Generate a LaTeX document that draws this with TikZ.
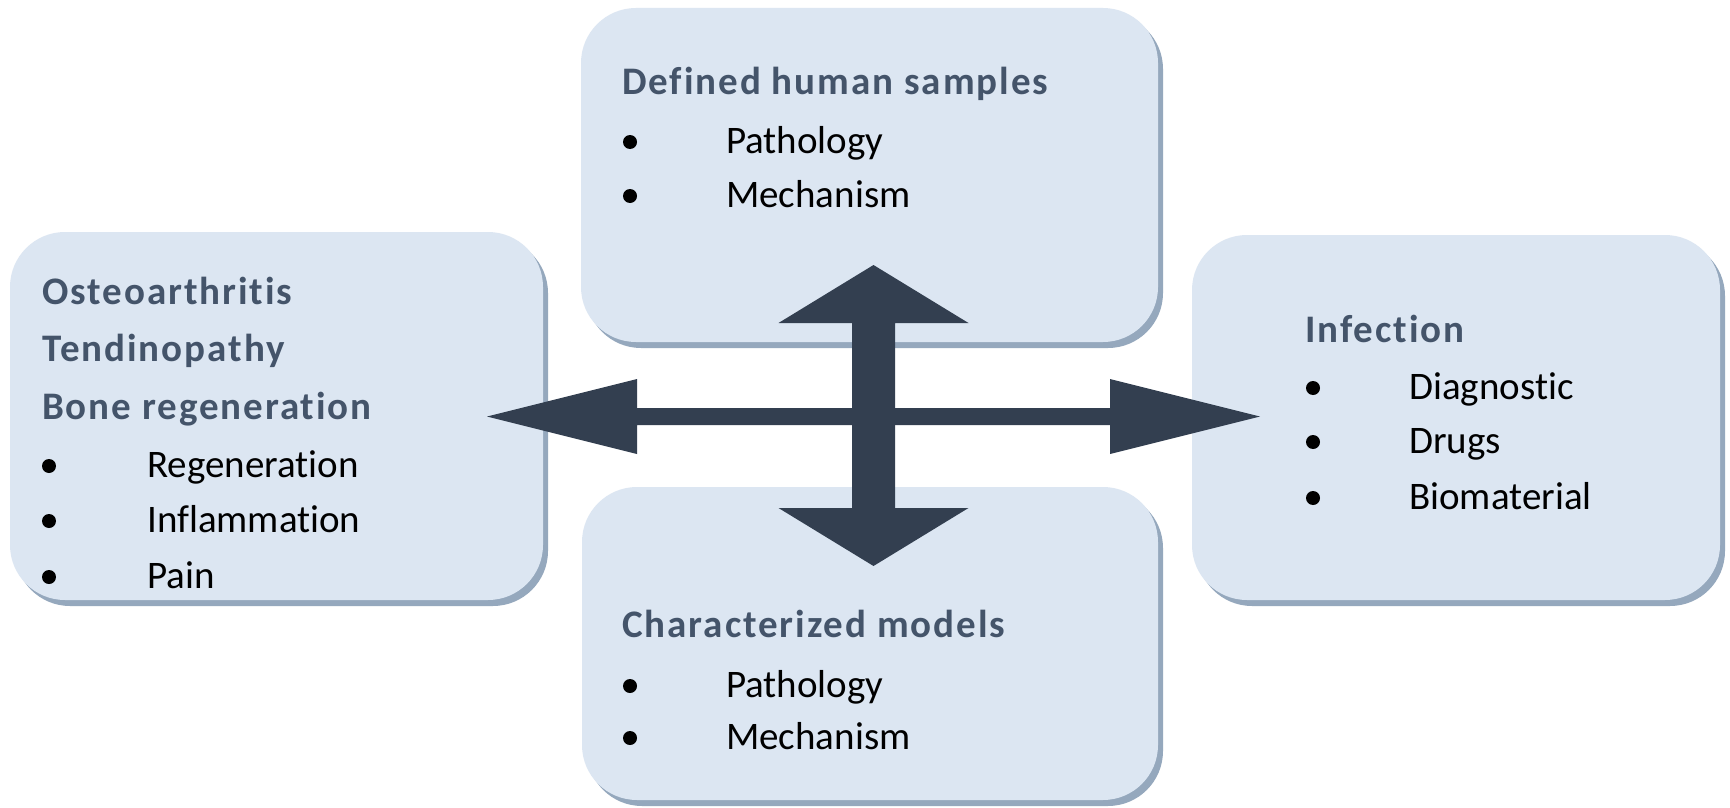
\documentclass[tikz,border=0pt]{standalone}
\usepackage{fontspec}
\setmainfont[Ligatures=NoCommon]{Carlito}
\newfontfamily\headfont[Ligatures=NoCommon, LetterSpace=5]{Carlito}
\usetikzlibrary{shadows}
\definecolor{boxfill}{HTML}{DCE6F2}
\definecolor{boxshade}{HTML}{95A8BD}
\definecolor{arrowcol}{HTML}{333F50}
\definecolor{headcol}{HTML}{44546A}
\tikzset{
  panel/.style={rectangle, rounded corners=55pt, fill=boxfill, draw=none, inner sep=0pt,
    drop shadow={shadow xshift=5pt, shadow yshift=-6pt, fill=boxshade, opacity=1}},
  head/.style={anchor=base west, inner sep=0pt, text=headcol, font=\fontsize{39}{46}\headfont\bfseries},
  item/.style={anchor=base west, inner sep=0pt, font=\fontsize{39}{46}\selectfont},
  dot/.style={circle, fill=black, inner sep=0pt, minimum size=14pt},
  bigarrow/.style={fill=arrowcol, draw=none}
}
\begin{document}
\begin{tikzpicture}[x=1pt, y=-1pt]
  \fill[white] (0,0) rectangle (1730,808);
  \useasboundingbox (0,0) rectangle (1730,808);

  % panels
  \node[panel, minimum width=577pt, minimum height=334pt] (ptop) at (869.5,175) {};
  \node[panel, minimum width=533pt, minimum height=368pt] (pleft) at (276.5,416) {};
  \node[panel, minimum width=528pt, minimum height=365pt] (pright) at (1456,417.5) {};
  \node[panel, minimum width=576pt, minimum height=313pt] (pbot) at (870,643.5) {};

  % top panel text
  \node[head] (t0) at (622,94) {Defined human samples};
  \node[dot] (tb1) at (630,142) {};
  \node[item] (t1) at (726,153) {Pathology};
  \node[dot] (tb2) at (630,196) {};
  \node[item] (t2) at (726,207) {Mechanism};

  % left panel text
  \node[head] (l0) at (42,304) {Osteoarthritis};
  \node[head] (l1) at (42,361) {Tendinopathy};
  \node[head] (l2) at (42,419) {Bone regeneration};
  \node[dot] (lb1) at (49,466) {};
  \node[item] (l3) at (147,477) {Regeneration};
  \node[dot] (lb2) at (49,521) {};
  \node[item] (l4) at (147,532) {Inflammation};
  \node[dot] (lb3) at (49,577) {};
  \node[item] (l5) at (147,588) {Pain};

  % right panel text
  \node[head] (r0) at (1305,342) {Infection};
  \node[dot] (rb1) at (1313,388) {};
  \node[item] (r1) at (1409,399) {Diagnostic};
  \node[dot] (rb2) at (1313,442) {};
  \node[item] (r2) at (1409,453) {Drugs};
  \node[dot] (rb3) at (1313,498) {};
  \node[item] (r3) at (1409,509) {Biomaterial};

  % bottom panel text
  \node[head] (b0) at (622,637) {Characterized models};
  \node[dot] (bb1) at (630,686) {};
  \node[item] (b1) at (726,697) {Pathology};
  \node[dot] (bb2) at (630,738) {};
  \node[item] (b2) at (726,749) {Mechanism};

  % crossing block arrows
  \coordinate (hub) at (873.5,416.5);
  \begin{scope}[shift={(hub)}]
    \fill[bigarrow] (-386.5,0) -- (-236.5,-37.5) -- (-236.5,-8.5) -- (236.5,-8.5)
      -- (236.5,-37.5) -- (386.5,0) -- (236.5,37.5) -- (236.5,8.5)
      -- (-236.5,8.5) -- (-236.5,37.5) -- cycle;
    \fill[bigarrow] (0,-151.5) -- (95,-93.5) -- (21.5,-93.5) -- (21.5,91.5)
      -- (95,91.5) -- (0,149.5) -- (-95,91.5) -- (-21.5,91.5)
      -- (-21.5,-93.5) -- (-95,-93.5) -- cycle;
  \end{scope}
\end{tikzpicture}
\end{document}
